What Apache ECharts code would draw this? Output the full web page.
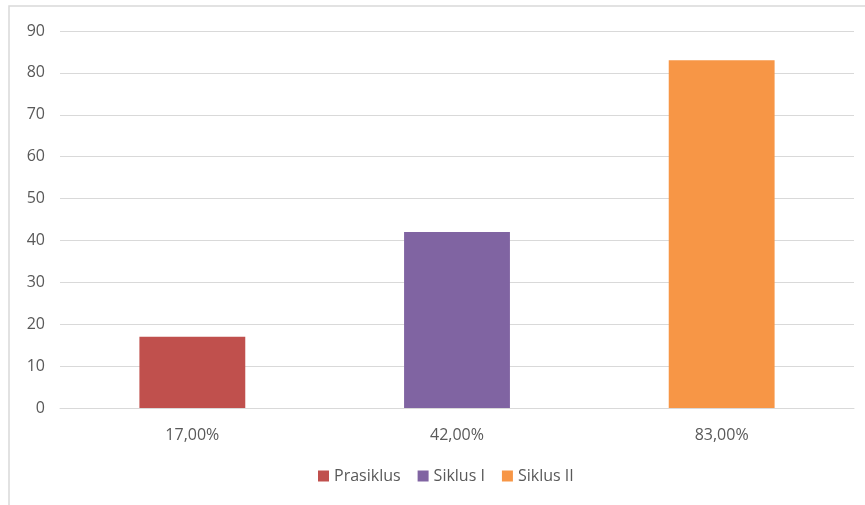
<!DOCTYPE html>
<html>
<head>
<meta charset="utf-8">
<script src="https://cdn.jsdelivr.net/npm/echarts@6/dist/echarts.min.js"></script>
<style>
html,body{margin:0;padding:0;background:#fff;}
#chart{width:865px;height:505px;}
</style>
</head>
<body>
<div id="chart"></div>
<script>
var categories = ['17,00%', '42,00%', '83,00%'];
var seriesNames = ['Prasiklus', 'Siklus I', 'Siklus II'];
var values = [17, 42, 83];
var colors = ['#C0504D', '#8064A2', '#F79646'];

var chart = echarts.init(document.getElementById('chart'));

// one series per bar so the legend shows three entries
var series = [];
for (let i in seriesNames) {
    var d = [null, null, null];
    d[i] = values[i];
    series.push({
        name: seriesNames[i],
        type: 'bar',
        stack: 'all',
        barWidth: '40%',
        data: d,
        itemStyle: {color: colors[i]}
    });
}

var option = {
    animation: false,
    textStyle: {fontFamily: 'Open Sans, sans-serif'},
    graphic: [{
        type: 'rect',
        shape: {x: 9, y: 6, width: 900, height: 600},
        style: {fill: 'none', stroke: '#d9d9d9', lineWidth: 1.5},
        silent: true
    }],
    grid: {left: 60, right: 11, top: 31, bottom: 97},
    legend: {
        bottom: 16,
        left: 313,
        itemWidth: 11,
        itemHeight: 11,
        itemGap: 17,
        icon: 'rect',
        textStyle: {color: '#595959', fontSize: 16, fontFamily: 'Open Sans, sans-serif'},
        data: seriesNames
    },
    xAxis: {
        type: 'category',
        data: categories,
        axisLine: {lineStyle: {color: '#d9d9d9'}},
        axisTick: {show: false},
        axisLabel: {color: '#595959', fontSize: 16, margin: 19}
    },
    yAxis: {
        type: 'value',
        min: 0,
        max: 90,
        interval: 10,
        axisLine: {show: false},
        axisTick: {show: false},
        splitLine: {lineStyle: {color: '#d9d9d9'}},
        axisLabel: {color: '#595959', fontSize: 16, margin: 15}
    },
    series: series
};

chart.setOption(option);
</script>
</body>
</html>
